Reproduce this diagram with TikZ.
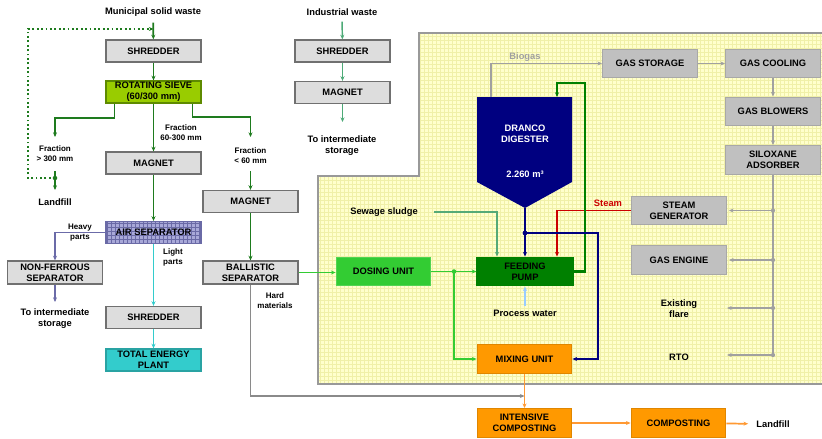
\documentclass[tikz,border=0pt]{standalone}
\usepackage{fontspec}
\setmainfont{Liberation Sans}
\usetikzlibrary{arrows.meta,calc}
\definecolor{mgreen}{HTML}{1E7B1E}
\definecolor{boxfill}{HTML}{DDDDDD}
\definecolor{boxedge}{HTML}{707070}
\definecolor{sievefill}{HTML}{99CC00}
\definecolor{sieveedge}{HTML}{5E8A00}
\definecolor{airfill}{HTML}{A8A8D8}
\definecolor{airgrid}{HTML}{6A6AA6}
\definecolor{slateline}{HTML}{6B6BA8}
\definecolor{cyanline}{HTML}{33CCCC}
\definecolor{tepfill}{HTML}{33CCCC}
\definecolor{indline}{HTML}{4DAA77}
\definecolor{gline}{HTML}{A0A0A0}
\definecolor{hardline}{HTML}{8A8A8A}
\definecolor{yellowbg}{HTML}{FFFFCC}
\definecolor{yellowgrid}{HTML}{F0F0A8}
\definecolor{regionedge}{HTML}{999999}
\definecolor{regfill}{HTML}{C0C0C0}
\definecolor{regedge}{HTML}{A8A8A8}
\definecolor{navy}{HTML}{000080}
\definecolor{feedfill}{HTML}{008000}
\definecolor{dosefill}{HTML}{33CC33}
\definecolor{orangefill}{HTML}{FF9900}
\definecolor{orangeedge}{HTML}{E08600}
\definecolor{orangeline}{HTML}{FF9933}
\definecolor{steamred}{HTML}{CC0000}
\definecolor{pwblue}{HTML}{99CCFF}
\definecolor{sewline}{HTML}{55AA77}
\tikzset{
  base/.style={font=\bfseries\fontsize{7}{8.3}\selectfont, align=center},
  txt/.style={base, inner sep=0pt},
  smalltxt/.style={font=\bfseries\fontsize{6}{7.5}\selectfont, align=center, inner sep=0pt},
  graybox/.style={base, draw=boxedge, fill=boxfill, line width=0.9pt, minimum width=71.25pt, minimum height=16.5pt, inner sep=0pt},
  regbox/.style={base, draw=regedge, fill=regfill, line width=0.9pt, minimum width=71pt, minimum height=21.5pt, inner sep=0pt},
  arr/.style={-{Stealth[length=3.5pt,width=3pt]}},
  mline/.style={draw=mgreen, line width=1.3pt},
  thinline/.style={line width=1pt},
}
\begin{document}
\begin{tikzpicture}[x=0.75pt,y=-0.75pt]
\useasboundingbox (0,0) rectangle (822,439);
% ---------- yellow region ----------
\fill[yellowbg] (419,33) -- (830,33) -- (830,384) -- (318,384) -- (318,176) -- (419,176) -- cycle;
\begin{scope}
  \clip (419,33) -- (830,33) -- (830,384) -- (318,384) -- (318,176) -- (419,176) -- cycle;
  \draw[yellowgrid, line width=0.35pt, step=3pt] (316,30) grid (832,386);
\end{scope}
\draw[regionedge, line width=1.3pt] (830,33) -- (419,33) -- (419,176) -- (318,176) -- (318,384) -- (830,384);

% ---------- left column ----------
\node[txt] (msw) at (153,12) {Municipal solid waste};
\node[graybox] (shr1) at (153.5,51) {SHREDDER};
\node[graybox, fill=sievefill, draw=sieveedge] (sieve) at (153.5,92) {ROTATING SIEVE\\(60/300 mm)};
\node[graybox] (mag1) at (153.5,163) {MAGNET};
\node[graybox, fill=airfill, draw=airgrid,
  path picture={\draw[airgrid, line width=0.4pt, step=3pt] (path picture bounding box.south west) grid (path picture bounding box.north east);}]
  (airsep) at (153.5,232.5) {AIR SEPARATOR};
\node[graybox, minimum height=17.25pt] (nfsep) at (55,272.5) {NON-FERROUS\\SEPARATOR};
\node[graybox] (shr2) at (153.5,317.5) {SHREDDER};
\node[graybox, fill=tepfill, draw=tepfill!80!black] (tep) at (153.5,360) {TOTAL ENERGY\\PLANT};
\node[graybox] (mag2) at (250.5,201.5) {MAGNET};
\node[graybox, minimum height=17.25pt] (ball) at (250.5,272.5) {BALLISTIC\\SEPARATOR};

\node[smalltxt] (fr300) at (55,154) {Fraction\\> 300 mm};
\node[txt] (lf1) at (55,202) {Landfill};
\node[smalltxt] (fr60300) at (181,133) {Fraction\\60-300 mm};
\node[smalltxt] (fr60) at (250.5,156) {Fraction\\< 60 mm};
\node[smalltxt] (heavy1) at (80,227.5) {Heavy};
\node[smalltxt] (heavy2) at (80,238) {parts};
\node[smalltxt] (light) at (173,257.5) {Light\\parts};
\node[txt] (toint1) at (55,318.5) {To intermediate\\storage};
\node[smalltxt] (hard) at (275,301) {Hard\\materials};

\coordinate (lfj) at (55,178);
\coordinate (dt1) at (28,178);
\coordinate (dt2) at (28,29);
\coordinate (dt3) at (153.5,29);
\coordinate (fl1) at (55,118);
\coordinate (fl2) at (55,137);
\coordinate (fl3) at (55,171);
\coordinate (fl4) at (55,190);
\coordinate (fr1) at (250.5,117);
\coordinate (fr2) at (250.5,137);
\coordinate (fr3) at (250.5,171);
\coordinate (nf2) at (55,302);

\draw[mline, arr, shorten <=4.5pt] (msw) -- (shr1);
\draw[mline, dotted, line width=1pt, arr] (lfj) -- (dt1) -- (dt2) -- (dt3);
\draw[mline, arr] (shr1) -- (sieve);
\draw[mline, arr] ($(sieve.south west)+(9,0)$) |- (fl1) -- (fl2);
\draw[mline, arr] (fl3) -- (fl4);
\fill[mgreen] (lfj) circle (1.7pt);
\draw[mline, arr] (sieve) -- (mag1);
\draw[mline, arr] ($(sieve.south east)+(-9,0)$) |- (fr1) -- (fr2);
\draw[mline, arr] (fr3) -- (mag2.north);
\draw[mline, arr] (mag1) -- (airsep);
\draw[mline, arr] (mag2) -- (ball);
\draw[slateline, line width=1.3pt, arr] (airsep.west) -| (nfsep.north);
\draw[slateline, line width=1.3pt, arr] (nfsep.south) -- (nf2);
\draw[cyanline, line width=1.1pt, arr] (airsep) -- (shr2);
\draw[cyanline, line width=1.1pt, arr] (shr2) -- (tep);

% ---------- industrial waste ----------
\node[txt] (indw) at (342,12) {Industrial waste};
\node[graybox] (shr3) at (342.5,51) {SHREDDER};
\node[graybox] (mag3) at (342.5,92.5) {MAGNET};
\node[txt] (toint2) at (342,146) {To intermediate\\storage};
\coordinate (indend) at (342.5,122);
\draw[indline, line width=1.1pt, arr, shorten <=4.5pt] (indw) -- (shr3);
\draw[indline, line width=1.1pt, arr] (shr3) -- (mag3);
\draw[indline, line width=1.1pt, arr] (mag3) -- (indend);

% ---------- digester ----------
\coordinate (dA) at (477,97);
\coordinate (dB) at (572,97);
\coordinate (dC) at (572,182);
\coordinate (dD) at (525,208);
\coordinate (dE) at (477,182);
\coordinate (dBio) at (491,97);
\coordinate (dG) at (557,97);
\fill[navy] (dA) -- (dB) -- (dC) -- (dD) -- (dE) -- cycle;
\node[txt, white] (dig) at (525,133.5) {DRANCO\\DIGESTER};
\node[txt, white] (digvol) at (525,174) {2.260 m³};

% ---------- gas line ----------
\node[regbox] (gasst) at (650,63.5) {GAS STORAGE};
\node[regbox] (gascool) at (773,63.5) {GAS COOLING};
\node[regbox] (gasblow) at (773,111.5) {GAS BLOWERS};
\node[regbox] (silox) at (773,160) {SILOXANE\\ADSORBER};
\node[regbox] (steamgen) at (679,210.5) {STEAM\\GENERATOR};
\node[regbox] (gaseng) at (679,260) {GAS ENGINE};
\node[txt] (flare) at (679,309) {Existing\\flare};
\node[txt] (rto) at (679,357) {RTO};
\node[txt, text=gline] (biogas) at (525,57) {Biogas};

\draw[gline, thinline, arr] (dBio) |- (gasst.west);
\draw[gline, thinline, arr] (gasst) -- (gascool);
\draw[gline, thinline, arr] (gascool) -- (gasblow);
\draw[gline, thinline, arr] (gasblow) -- (silox);
\coordinate (b1) at (773,210.5);
\coordinate (b2) at (773,260);
\coordinate (b3) at (773,308);
\coordinate (b4) at (773,355);
\coordinate (e3) at (727,308);
\coordinate (e4) at (727,355);
\draw[gline, line width=1.2pt] (silox.south) -- (b4);
\draw[gline, thinline, arr, shorten >=1.5pt] (b1) -- (steamgen.east);
\draw[gline, thinline, arr, shorten >=1.5pt] (b2) -- (gaseng.east);
\draw[gline, thinline, arr] (b3) -- (e3);
\draw[gline, thinline, arr] (b4) -- (e4);
\foreach \b in {b1,b2,b3,b4} \fill[gline] (\b) circle (1.6pt);

% ---------- process units ----------
\node[regbox, fill=feedfill, draw=feedfill, minimum width=72pt] (feed) at (525,271.5) {FEEDING\\PUMP};
\node[regbox, fill=dosefill, draw=dosefill!85!white] (dosing) at (383.5,271.5) {DOSING UNIT};
\node[regbox, fill=orangefill, draw=orangeedge] (mixing) at (524.5,359) {MIXING UNIT};
\node[regbox, fill=orangefill, draw=orangeedge] (intcomp) at (524.5,423) {INTENSIVE\\COMPOSTING};
\node[regbox, fill=orangefill, draw=orangeedge] (comp) at (678.5,423) {COMPOSTING};
\node[txt] (lf2) at (773,424) {Landfill};
\node[txt] (sewage) at (384,212) {Sewage sludge};
\node[txt] (procw) at (525,313) {Process water};
\node[txt, text=steamred] (steamlbl) at (608,203) {Steam};

% steam
\coordinate (stc) at (557,210.5);
\draw[steamred, line width=1.2pt, arr] (steamgen.west) -- (stc) -- (stc |- feed.north);
% green recirculation loop
\coordinate (gl1) at (585,83);
\draw[feedfill, line width=1.8pt, arr] (feed.east) -| (gl1) -| (dG);
% digester outlet
\coordinate (nj) at (525,233);
\coordinate (nv) at (598,233);
\draw[navy, line width=1.1pt, arr] (dD) -- (feed.north);
\draw[navy, line width=1.1pt, arr] (nj) -- (nv) |- (mixing.east);
\fill[navy] (nj) circle (1.8pt);
% sewage sludge
\coordinate (sw1) at (434,212);
\draw[sewline, line width=1.1pt, arr] (sw1) -| ($(feed.north)+(-28,0)$);
% process water
\coordinate (pw) at (525,306);
\draw[pwblue, line width=1.1pt, arr] (pw) -- (feed.south);
% dosing
\coordinate (gj) at (454,271.5);
\draw[dosefill, line width=1.1pt, arr] (ball.east) -- (ball.east -| dosing.west);
\draw[dosefill, line width=1.1pt, arr] (dosing.east) -- (feed.west);
\draw[dosefill, line width=1.1pt, arr] (gj) |- (mixing.west);
\fill[dosefill] (gj) circle (1.7pt);
% hard materials
\coordinate (hm) at (250.5,396);
\draw[hardline, line width=1.3pt, arr] (ball.south) -- (hm) -- (hm -| mixing.south);
% composting chain
\draw[orangeline, line width=1.3pt, arr] (mixing) -- (intcomp);
\draw[orangeline, line width=1.3pt, arr] (intcomp) -- (comp);
\draw[orangeline, line width=1.3pt, arr, shorten >=6pt] (comp) -- (lf2);
\end{tikzpicture}
\end{document}
